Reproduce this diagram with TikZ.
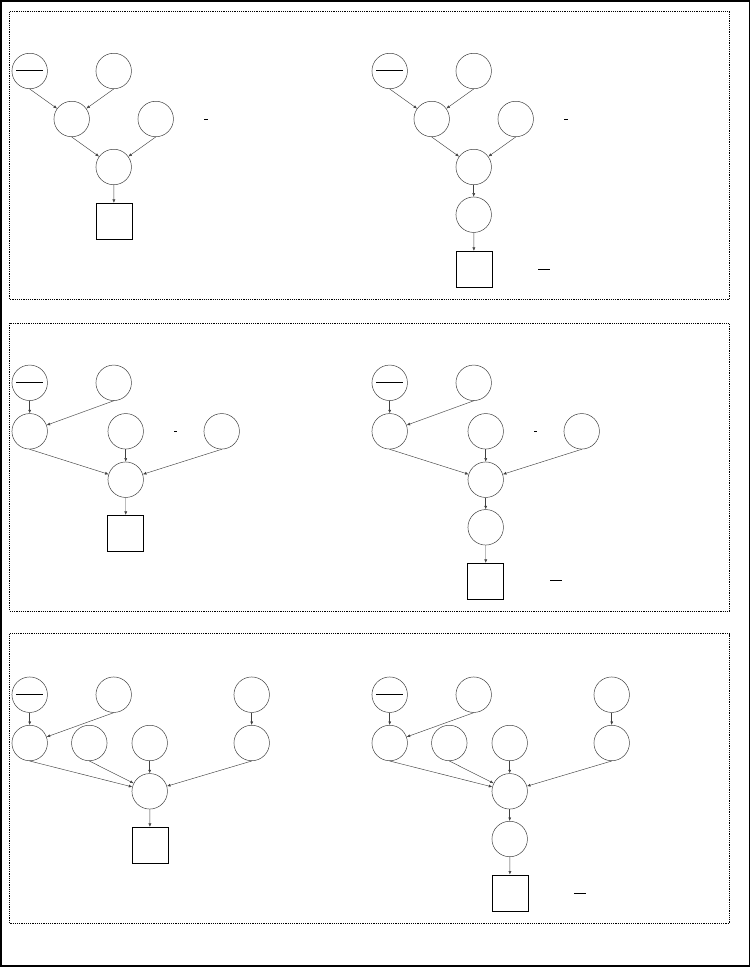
\documentclass[tikz,border=0pt]{standalone}
\usetikzlibrary{arrows.meta}
\tikzset{
	var/.style={circle, draw=black!75, line width=0.5pt, minimum size=35.5pt, inner sep=0pt},
	outbox/.style={rectangle, draw=black, line width=0.8pt, minimum size=36pt, inner sep=0pt},
	link/.style={-{Latex[length=3.5pt,width=3pt]}, draw=black!75, line width=0.45pt},
	panel/.style={dash pattern=on 1.2pt off 1pt, line width=1pt},
	bar/.style={line width=0.9pt}
}
\newcommand{\ovl}{\rule[1pt]{27pt}{0.9pt}}
\begin{document}
\begin{tikzpicture}[x=1pt,y=-1pt]
	\useasboundingbox (0,0) rectangle (751,967);
	\draw[line width=1.6pt] (0.8,0.8) rectangle (749.5,966);
	\foreach \t/\b in {11.5/299, 323/611, 633.5/923} {\draw[panel] (9.5,\t) rectangle (729.3,\b);};
	% first row
	\node[var] (a1) at (29.7,71) {\ovl};
	\node[var] (b1) at (113.7,71) {};
	\node[var] (c1) at (71.7,119) {};
	\node[var] (d1) at (155.7,119) {};
	\node[var] (e1) at (113.7,167) {};
	\node[outbox] (y1) at (114,221.3) {};
	\draw[link] (a1.south) -- (c1);
	\draw[link] (b1.south) -- (c1);
	\draw[link] (c1.south) -- (e1);
	\draw[link] (d1.south) -- (e1);
	\draw[link] (e1) -- (y1);
	\draw[bar] (204,119) -- (208,119);
	\node[var] (a2) at (389.7,71) {\ovl};
	\node[var] (b2) at (473.7,71) {};
	\node[var] (c2) at (431.7,119) {};
	\node[var] (d2) at (515.7,119) {};
	\node[var] (e2) at (473.7,167) {};
	\node[var] (f2) at (473.7,214.7) {};
	\node[outbox] (y2) at (474,269.3) {};
	\draw[link] (a2.south) -- (c2);
	\draw[link] (b2.south) -- (c2);
	\draw[link] (c2.south) -- (e2);
	\draw[link] (d2.south) -- (e2);
	\draw[link] (e2) -- (f2);
	\draw[link] (f2) -- (y2);
	\draw[bar] (564,119.3) -- (568,119.3);
	\draw[bar] (538.3,269.3) -- (549.7,269.3);
	% second row
	\node[var] (a3) at (29.7,382.8) {\ovl};
	\node[var] (b3) at (113.7,382.8) {};
	\node[var] (c3) at (29.7,431.3) {};
	\node[var] (d3) at (125.7,431.3) {};
	\node[var] (g3) at (221.7,431.3) {};
	\node[var] (e3) at (125.7,479.7) {};
	\node[outbox] (y3) at (125.8,533.3) {};
	\draw[link] (a3) -- (c3);
	\draw[link] (b3.south) -- (c3);
	\draw[link] (c3.south) -- (e3);
	\draw[link] (d3) -- (e3);
	\draw[link] (g3.south) -- (e3);
	\draw[link] (e3) -- (y3);
	\draw[bar] (174.2,431) -- (176.5,431);
	\node[var] (a4) at (389.7,382.8) {\ovl};
	\node[var] (b4) at (473.7,382.8) {};
	\node[var] (c4) at (389.7,431.3) {};
	\node[var] (d4) at (485.7,431.3) {};
	\node[var] (g4) at (581.7,431.3) {};
	\node[var] (e4) at (485.7,479.7) {};
	\node[var] (f4) at (485.7,527.3) {};
	\node[outbox] (y4) at (485.8,581.3) {};
	\draw[link] (a4) -- (c4);
	\draw[link] (b4.south) -- (c4);
	\draw[link] (c4.south) -- (e4);
	\draw[link] (d4) -- (e4);
	\draw[link] (g4.south) -- (e4);
	\draw[link] (e4) -- (f4);
	\draw[link] (f4) -- (y4);
	\draw[bar] (534.2,431) -- (536.5,431);
	\draw[bar] (550,580.7) -- (561.7,580.7);
	% third row
	\node[var] (a5) at (29.7,694.7) {\ovl};
	\node[var] (b5) at (113.7,694.7) {};
	\node[var] (h5) at (251.7,694.7) {};
	\node[var] (c5) at (29.7,743) {};
	\node[var] (k5) at (89.3,743) {};
	\node[var] (d5) at (149.7,743) {};
	\node[var] (g5) at (251.7,743) {};
	\node[var] (e5) at (149.7,791.3) {};
	\node[outbox] (y5) at (150,845.3) {};
	\draw[link] (a5) -- (c5);
	\draw[link] (b5.south) -- (c5);
	\draw[link] (h5) -- (g5);
	\draw[link] (c5.south) -- (e5);
	\draw[link] (k5.south) -- (e5);
	\draw[link] (d5) -- (e5);
	\draw[link] (g5.south) -- (e5);
	\draw[link] (e5) -- (y5);
	\node[var] (a6) at (389.7,694.7) {\ovl};
	\node[var] (b6) at (473.7,694.7) {};
	\node[var] (h6) at (611.7,694.7) {};
	\node[var] (c6) at (389.7,743) {};
	\node[var] (k6) at (449.3,743) {};
	\node[var] (d6) at (509.7,743) {};
	\node[var] (g6) at (611.7,743) {};
	\node[var] (e6) at (509.7,791.3) {};
	\node[var] (f6) at (509.7,839) {};
	\node[outbox] (y6) at (510,893) {};
	\draw[link] (a6) -- (c6);
	\draw[link] (b6.south) -- (c6);
	\draw[link] (h6) -- (g6);
	\draw[link] (c6.south) -- (e6);
	\draw[link] (k6.south) -- (e6);
	\draw[link] (d6) -- (e6);
	\draw[link] (g6.south) -- (e6);
	\draw[link] (e6) -- (f6);
	\draw[link] (f6) -- (y6);
	\draw[bar] (574,893.3) -- (586,893.3);
\end{tikzpicture}
\end{document}
